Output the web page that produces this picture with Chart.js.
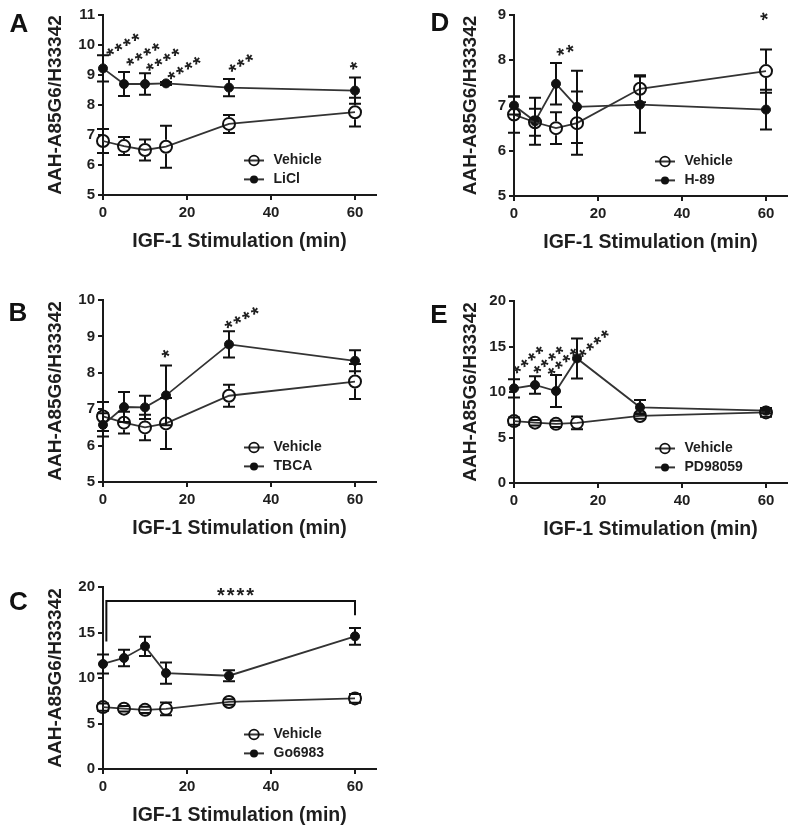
<!DOCTYPE html>
<html>
<head>
<meta charset="utf-8">
<script src="https://cdn.jsdelivr.net/npm/chart.js@4.4.0/dist/chart.umd.min.js"></script>
<style>
  html, body { margin: 0; padding: 0; background: #fff; overflow: hidden; }
  body { width: 798px; height: 835px; position: relative; }
  canvas { position: absolute; }
  .letter { position: absolute; width: 40px; height: 30px; line-height: 30px; text-align: center;
            font: bold 26px "Liberation Sans", Arial, sans-serif; color: #111; }
</style>
</head>
<body>
<script>
// ---- data ----
const times = [0, 5, 10, 15, 30, 60];
const xTicks = [0, 20, 40, 60];
const xMax = 65;

const vehicleMean = [6.8, 6.63, 6.5, 6.61, 7.37, 7.76];
const vehicleSem  = [0.4, 0.3, 0.35, 0.7, 0.3, 0.48];
const liclMean = [9.22, 8.7, 8.7, 8.72, 8.58, 8.48];
const liclSem  = [0.44, 0.4, 0.36, 0.05, 0.29, 0.44];
const tbcaMean = [6.57, 7.06, 7.05, 7.38, 8.78, 8.33];
const tbcaSem  = [0.32, 0.41, 0.32, 0.82, 0.36, 0.29];
const goMean = [11.54, 12.2, 13.48, 10.54, 10.25, 14.58];
const goSem  = [1.05, 0.9, 1.05, 1.17, 0.6, 0.92];
const h89Mean = [7.0, 6.65, 7.48, 6.97, 7.02, 6.91];
const h89Sem  = [0.2, 0.52, 0.46, 0.8, 0.62, 0.44];
const pdMean = [10.4, 10.77, 10.11, 13.69, 8.32, 7.95];
const pdSem  = [1.0, 0.95, 1.75, 2.2, 0.8, 0.3];

const yTicksA = [5, 6, 7, 8, 9, 10, 11];
const yTicksB = [5, 6, 7, 8, 9, 10];
const yTicksD = [5, 6, 7, 8, 9];
const yTicks20 = [0, 5, 10, 15, 20];

// significance marks, in data units: [time, value, text]
const starsA = [[4.9, 10.03, '****'], [9.7, 9.71, '****'], [14.4, 9.53, '****'], [19.5, 9.25, '****'], [33.0, 9.42, '***'], [59.9, 9.33, '*']];
const starsB = [[15.1, 8.54, '*'], [33.2, 9.53, '****']];
const starsC = [[31.8, 19.4, '****']];
const starsD = [[12.4, 8.23, '**'], [59.8, 8.98, '*']];
const starsE = [[3.5, 13.6, '****'], [8.3, 13.6, '****'], [11.7, 13.4, '****'], [19.1, 15.4, '****']];
const bracketC = [[0.8, 14.0], [0.8, 18.45], [60, 18.45], [60, 16.9]];

const xTitle = 'IGF-1 Stimulation (min)';
const yTitle = 'AAH-A85G6/H33342';

// ---- styling / layout ----
const FONT = '"Liberation Sans", Arial, sans-serif';
const INK = '#1e1e1e';
const AXIS = '#1a1a1a';
const LINE = '#333';

const panels = [
  { id: 'A', name: 'LiCl', mean: liclMean, sem: liclSem, yTicks: yTicksA, stars: starsA, starAngle: 30,
    box: [0, 0, 400, 270], area: [103, 15, 376, 195], yTitleX: 55.5, letter: [19, 22.5] },
  { id: 'B', name: 'TBCA', mean: tbcaMean, sem: tbcaSem, yTicks: yTicksB, stars: starsB, starAngle: 27,
    box: [0, 270, 400, 280], area: [103, 30, 376, 212], yTitleX: 55.5, letter: [18, 311.7] },
  { id: 'C', name: 'Go6983', mean: goMean, sem: goSem, yTicks: yTicks20, stars: starsC, starAngle: 0, bracket: bracketC,
    box: [0, 560, 400, 275], area: [103, 27, 376, 209], yTitleX: 55.5, letter: [18.3, 601] },
  { id: 'D', name: 'H-89', mean: h89Mean, sem: h89Sem, yTicks: yTicksD, stars: starsD, starAngle: 18,
    box: [400, 0, 398, 270], area: [114, 15, 387, 196], yTitleX: 71, letter: [440, 21.7] },
  { id: 'E', name: 'PD98059', mean: pdMean, sem: pdSem, yTicks: yTicks20, stars: starsE, starAngle: 41,
    box: [400, 270, 398, 280], area: [114, 31, 387, 213], yTitleX: 71, letter: [439, 314] }
];

function toPoints(mean) {
  return times.map((t, i) => ({ x: t, y: mean[i] }));
}

// error bars, significance stars, bracket and legend
function overlay(p) {
  return {
    id: 'overlay' + p.id,
    afterDatasetsDraw(chart) {
      const { ctx, scales: { x, y } } = chart;
      ctx.save();
      ctx.strokeStyle = '#111';
      ctx.lineWidth = 2;
      chart.data.datasets.forEach(ds => {
        const gap = ds.gap || 0;
        ds.data.forEach((pt, i) => {
          const e = ds.errors[i];
          const px = x.getPixelForValue(pt.x);
          const py = y.getPixelForValue(pt.y);
          const top = y.getPixelForValue(pt.y + e);
          const bot = y.getPixelForValue(pt.y - e);
          ctx.beginPath();
          if (py - top > gap) { ctx.moveTo(px, py - gap); ctx.lineTo(px, top); }
          if (bot - py > gap) { ctx.moveTo(px, py + gap); ctx.lineTo(px, bot); }
          ctx.moveTo(px - 6, top); ctx.lineTo(px + 6, top);
          ctx.moveTo(px - 6, bot); ctx.lineTo(px + 6, bot);
          ctx.stroke();
        });
      });

      if (p.bracket) {
        ctx.beginPath();
        p.bracket.forEach(([bx, by], i) => {
          const X = x.getPixelForValue(bx), Y = y.getPixelForValue(by);
          if (i === 0) ctx.moveTo(X, Y); else ctx.lineTo(X, Y);
        });
        ctx.stroke();
      }

      ctx.fillStyle = INK;
      ctx.font = 'bold 20px ' + FONT;
      ctx.letterSpacing = '2px';
      ctx.textAlign = 'center';
      ctx.textBaseline = 'alphabetic';
      p.stars.forEach(([sx, sy, txt]) => {
        const m = ctx.measureText(txt);
        ctx.save();
        ctx.translate(x.getPixelForValue(sx), y.getPixelForValue(sy));
        ctx.rotate(-p.starAngle * Math.PI / 180);
        ctx.fillText(txt, 0, (m.actualBoundingBoxAscent - m.actualBoundingBoxDescent) / 2);
        ctx.restore();
      });
      ctx.letterSpacing = '0px';
      ctx.restore();
    },
    afterDraw(chart) {
      const { ctx, chartArea: { right, bottom } } = chart;
      const rows = [
        { label: 'Vehicle', open: true, y: bottom - 34.5 },
        { label: p.name, open: false, y: bottom - 15.6 }
      ];
      const cx = right - 122;
      ctx.save();
      rows.forEach(r => {
        ctx.strokeStyle = LINE;
        ctx.lineWidth = 2;
        ctx.beginPath();
        ctx.moveTo(cx - 10, r.y); ctx.lineTo(cx + 10, r.y);
        ctx.stroke();
        ctx.beginPath();
        ctx.arc(cx, r.y, r.open ? 4.8 : 4, 0, Math.PI * 2);
        if (r.open) { ctx.lineWidth = 1.8; ctx.strokeStyle = '#111'; ctx.stroke(); }
        else { ctx.fillStyle = '#111'; ctx.fill(); }
        ctx.fillStyle = INK;
        ctx.font = 'bold 14px ' + FONT;
        ctx.textAlign = 'left';
        ctx.textBaseline = 'middle';
        ctx.fillText(r.label, right - 102.5, r.y);
      });
      ctx.restore();
    }
  };
}

panels.forEach(p => {
  const [bx, by, w, h] = p.box;
  const [l, t, r, b] = p.area;

  const cv = document.createElement('canvas');
  cv.width = w; cv.height = h;
  cv.style.left = bx + 'px'; cv.style.top = by + 'px';
  document.body.appendChild(cv);

  const lt = document.createElement('div');
  lt.className = 'letter';
  lt.textContent = p.id;
  lt.style.left = (p.letter[0] - 20) + 'px';
  lt.style.top = (p.letter[1] - 14.7) + 'px';
  document.body.appendChild(lt);

  const tickFont = { family: FONT, size: 15, weight: 'bold' };
  const titleSize = 19.5;
  const half = titleSize * 1.2 / 2;

  new Chart(cv, {
    type: 'line',
    data: {
      datasets: [
        { label: 'Vehicle', data: toPoints(vehicleMean), errors: vehicleSem, gap: 7,
          borderColor: LINE, borderWidth: 1.8, pointRadius: 6, pointBorderWidth: 2,
          pointBackgroundColor: 'rgba(0,0,0,0)', pointBorderColor: '#111', clip: false },
        { label: p.name, data: toPoints(p.mean), errors: p.sem, gap: 0,
          borderColor: LINE, borderWidth: 1.8, pointRadius: 4.5, pointBorderWidth: 1,
          pointBackgroundColor: '#111', pointBorderColor: '#111', clip: false }
      ]
    },
    options: {
      responsive: false,
      animation: false,
      devicePixelRatio: 1,
      layout: { padding: { left: 0, top: t, right: w - r, bottom: 0 } },
      plugins: { legend: { display: false }, tooltip: { enabled: false } },
      scales: {
        x: {
          type: 'linear', min: 0, max: xMax,
          afterBuildTicks: s => { s.ticks = xTicks.map(v => ({ value: v })); },
          afterFit: s => { s.height = h - b; },
          border: { color: AXIS, width: 2 },
          grid: { drawOnChartArea: false, tickLength: 5, color: AXIS, lineWidth: 2 },
          ticks: { padding: 4, color: INK, font: tickFont },
          title: { display: true, text: xTitle, color: INK,
                   font: { family: FONT, size: titleSize, weight: 'bold' },
                   padding: { top: 0, bottom: (h - b) - 46.5 - half } }
        },
        y: {
          type: 'linear', min: p.yTicks[0], max: p.yTicks[p.yTicks.length - 1],
          afterBuildTicks: s => { s.ticks = p.yTicks.map(v => ({ value: v })); },
          afterFit: s => { s.width = l; },
          border: { color: AXIS, width: 2 },
          grid: { drawOnChartArea: false, tickLength: 5, color: AXIS, lineWidth: 2 },
          ticks: { padding: 3, color: INK, font: tickFont },
          title: { display: true, text: yTitle, color: INK,
                   font: { family: FONT, size: 19, weight: 'bold' },
                   padding: { top: p.yTitleX - 19 * 1.2 / 2, bottom: 0 } }
        }
      }
    },
    plugins: [overlay(p)]
  });
});
</script>
</body>
</html>
